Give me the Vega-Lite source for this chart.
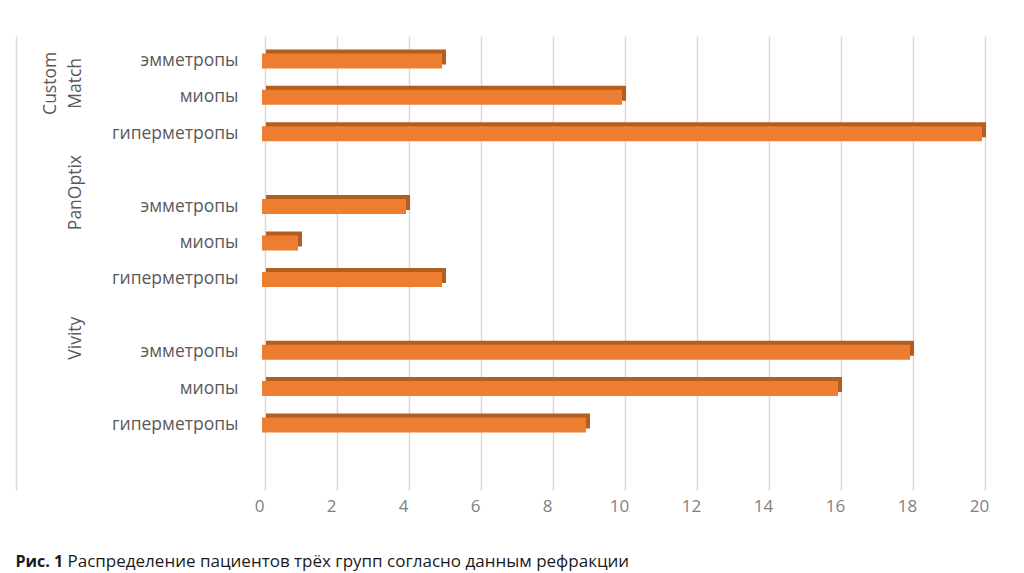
{
  "$schema": "https://vega.github.io/schema/vega-lite/v6.json",
  "description": "Распределение пациентов трёх групп согласно данным рефракции",
  "width": 720,
  "height": 454,
  "autosize": {"type": "none"},
  "padding": {"left": 265, "top": 36, "right": 39, "bottom": 83},
  "background": "white",
  "data": {
    "values": [
      {"slot": "Custom Match|эмметропы", "group": "Custom Match", "refraction": "эмметропы", "patients": 5},
      {"slot": "Custom Match|миопы", "group": "Custom Match", "refraction": "миопы", "patients": 10},
      {"slot": "Custom Match|гиперметропы", "group": "Custom Match", "refraction": "гиперметропы", "patients": 20},
      {"slot": "PanOptix|эмметропы", "group": "PanOptix", "refraction": "эмметропы", "patients": 4},
      {"slot": "PanOptix|миопы", "group": "PanOptix", "refraction": "миопы", "patients": 1},
      {"slot": "PanOptix|гиперметропы", "group": "PanOptix", "refraction": "гиперметропы", "patients": 5},
      {"slot": "Vivity|эмметропы", "group": "Vivity", "refraction": "эмметропы", "patients": 18},
      {"slot": "Vivity|миопы", "group": "Vivity", "refraction": "миопы", "patients": 16},
      {"slot": "Vivity|гиперметропы", "group": "Vivity", "refraction": "гиперметропы", "patients": 9}
    ]
  },
  "encoding": {
    "x": {
      "field": "patients",
      "type": "quantitative",
      "scale": {"domain": [0, 20], "nice": false},
      "axis": {
        "values": [0, 2, 4, 6, 8, 10, 12, 14, 16, 18, 20],
        "grid": true,
        "gridColor": "#d9d9d9",
        "gridWidth": 1.5,
        "domain": false,
        "ticks": false,
        "tickSize": 0,
        "labelFlush": false,
        "labelPadding": 8,
        "labelOffset": -6,
        "labelFont": "Open Sans",
        "labelFontSize": 17,
        "labelColor": "#7f7f7f",
        "title": "Рис. 1",
        "titleX": -250,
        "titleY": 76,
        "titleAlign": "left",
        "titleBaseline": "alphabetic",
        "titleFont": "Open Sans",
        "titleFontSize": 16,
        "titleFontWeight": "bold",
        "titleColor": "#1a1a1a"
      }
    }
  },
  "layer": [
    {
      "mark": {"type": "bar", "color": "#b35e1e", "xOffset": 1, "yOffset": -4},
      "encoding": {
        "y": {
          "field": "slot",
          "type": "nominal",
          "scale": {
            "domain": [
              "Custom Match|эмметропы", "Custom Match|миопы", "Custom Match|гиперметропы", "gap1",
              "PanOptix|эмметропы", "PanOptix|миопы", "PanOptix|гиперметропы", "gap2",
              "Vivity|эмметропы", "Vivity|миопы", "Vivity|гиперметропы", "gap3"
            ],
            "paddingInner": 0.588,
            "paddingOuter": 0.529,
            "align": 0.453
          },
          "axis": {
            "orient": "left",
            "offset": 249,
            "title": null,
            "grid": false,
            "domain": true,
            "domainColor": "#d9d9d9",
            "domainWidth": 1.5,
            "ticks": false,
            "tickSize": 0,
            "labelPadding": -43,
            "labelAngle": 270,
            "labelAlign": "center",
            "labelBaseline": "bottom",
            "labelOffset": -14,
            "labelLineHeight": 25,
            "labelFont": "Open Sans",
            "labelFontSize": 17.5,
            "labelColor": "#595959",
            "labelExpr": "datum.value == 'Custom Match|миопы' ? ['Custom', 'Match'] : datum.value == 'PanOptix|эмметропы' ? ['', 'PanOptix'] : datum.value == 'Vivity|эмметропы' ? ['', 'Vivity'] : ''"
          }
        }
      }
    },
    {
      "mark": {"type": "bar", "color": "#ed7d31", "xOffset": -3},
      "encoding": {
        "y": {
          "field": "slot",
          "type": "nominal",
          "axis": {
            "orient": "left",
            "grid": false,
            "domain": false,
            "ticks": false,
            "tickSize": 0,
            "labelPadding": 27,
            "labelFont": "Open Sans",
            "labelFontSize": 17.5,
            "labelColor": "#595959",
            "labelExpr": "split(datum.value, '|')[1] || ''",
            "title": "Распределение пациентов трёх групп согласно данным рефракции",
            "titleAngle": 0,
            "titleX": -198,
            "titleY": 530,
            "titleAlign": "left",
            "titleBaseline": "alphabetic",
            "titleFont": "Open Sans",
            "titleFontSize": 17,
            "titleFontWeight": "normal",
            "titleColor": "#1a1a1a"
          }
        },
        "tooltip": [
          {"field": "group", "type": "nominal", "title": "Группа"},
          {"field": "refraction", "type": "nominal", "title": "Рефракция"},
          {"field": "patients", "type": "quantitative", "title": "Пациенты"}
        ]
      }
    }
  ],
  "resolve": {"axis": {"y": "independent"}},
  "config": {
    "view": {"stroke": null},
    "font": "Open Sans"
  }
}
